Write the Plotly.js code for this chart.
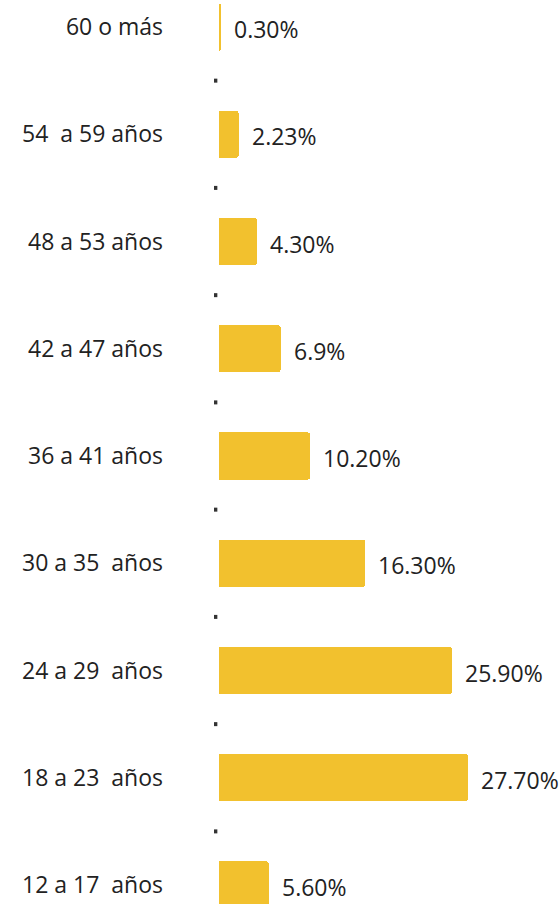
<!DOCTYPE html>
<html>
<head>
<meta charset="utf-8">
<script src="https://cdn.plot.ly/plotly-3.0.1.min.js"></script>
<style>html,body{margin:0;padding:0;background:#fff;}#chart{width:560px;height:904px;}</style>
</head>
<body>
<div id="chart"></div>
<script>
const categories = ["60 o más", "54  a 59 años", "48 a 53 años", "42 a 47 años", "36 a 41 años", "30 a 35  años", "24 a 29  años", "18 a 23  años", "12 a 17  años"];
const values = [0.30, 2.23, 4.30, 6.9, 10.20, 16.30, 25.90, 27.70, 5.60];
const valueLabels = ["0.30%", "2.23%", "4.30%", "6.9%", "10.20%", "16.30%", "25.90%", "27.70%", "5.60%"];

const pos = categories.map((c, i) => i);
const sepPos = pos.slice(0, -1).map(p => p + 0.5);
const FONT = '"Open Sans", Lato, sans-serif';

const barTrace = {
  type: 'bar',
  orientation: 'h',
  x: values,
  y: pos,
  width: 0.44,
  marker: {color: '#F2C12E', cornerradius: 3},
  hoverinfo: 'skip',
  showlegend: false
};

const sepTrace = {
  type: 'scatter',
  mode: 'markers',
  x: sepPos.map(() => -0.35),
  y: sepPos,
  marker: {symbol: 'square', size: 4, color: '#333'},
  hoverinfo: 'skip',
  showlegend: false
};

const annotations = values.map((v, i) => ({
  x: v, y: pos[i], xref: 'x', yref: 'y',
  text: valueLabels[i],
  showarrow: false,
  xanchor: 'left',
  xshift: 11,
  yshift: -2,
  font: {family: FONT, size: 23, color: '#222'}
}));

const layout = {
  width: 560, height: 904,
  margin: {l: 213.5, r: 0, t: 0, b: 0},
  paper_bgcolor: '#fff', plot_bgcolor: '#fff',
  xaxis: {range: [-0.5, 37.9], visible: false, fixedrange: true},
  yaxis: {
    range: [8.177, -0.252],
    tickvals: pos, ticktext: categories,
    showgrid: false, zeroline: false, showline: false, ticks: '',
    ticklabelstandoff: 50,
    tickfont: {family: FONT, size: 23, color: '#222'},
    fixedrange: true
  },
  annotations: annotations,
  bargap: 0
};

Plotly.newPlot('chart', [barTrace, sepTrace], layout, {displayModeBar: false, staticPlot: true});
</script>
</body>
</html>
